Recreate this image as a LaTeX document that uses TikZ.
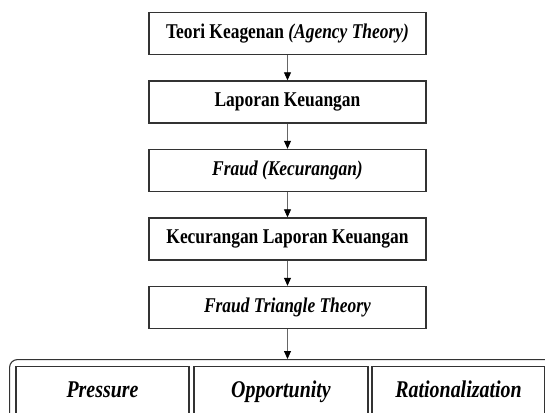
\documentclass[tikz,border=0pt]{standalone}
\usepackage{fontspec}
\setmainfont[FakeStretch=0.83]{Liberation Serif}
\usetikzlibrary{positioning}
\usetikzlibrary{arrows.meta}

\begin{document}
\begin{tikzpicture} [
       kotak/.style={rectangle, draw=black!80, line width=1.4pt,
               minimum width=277pt, minimum height=42pt, inner sep=0pt,
               font=\fontsize{21}{25}\selectfont\bfseries},
       pilar/.style={rectangle, draw=black!80, line width=1.3pt, anchor=north,
               minimum width=173pt, inner xsep=0pt, inner ysep=5pt,
               text height=26pt, text depth=30pt,
               font=\fontsize{24}{28}\selectfont\bfseries\itshape},
       bingkai/.style={rectangle, draw=black!80, line width=1.1pt,
               rounded corners=8pt, anchor=north west,
               minimum width=560pt, minimum height=90pt},
        line/.style     = { draw, black!60, line width=0.8pt,
               -{Triangle[length=8pt,width=7pt,color=black]} },
       node distance=68.5pt,
       ]
       \useasboundingbox (0,0) rectangle (545pt,-412pt);
       \clip (0,0) rectangle (545pt,-412pt);
       \node (teori) [kotak] at (287.5pt,-33.5pt) {Teori Keagenan \textit{(Agency Theory)}};
       \node (laporan) [kotak, below of = teori] {Laporan Keuangan};
       \node (fraud) [kotak, below of = laporan] {\textit{Fraud (Kecurangan)}};
       \node (kecurangan) [kotak, below of = fraud] {Kecurangan Laporan Keuangan};
       \node (segitiga) [kotak, below of = kecurangan] {\textit{Fraud Triangle Theory}};
       \node (bingkai) [bingkai] at (9pt,-359pt) {};
       \node (pressure) [pilar] at (102.5pt,-366pt) {Pressure};
       \node (opportunity) [pilar, minimum width=174pt] at (281pt,-366pt) {Opportunity};
       \node (rational) [pilar] at (458.5pt,-366pt) {Rationalization};
        \begin{scope}[every path/.style=line]
        \path (teori) -- (laporan);
        \path (laporan) -- (fraud);
        \path (fraud) -- (kecurangan);
        \path (kecurangan) -- (segitiga);
        \path (segitiga) -- (segitiga |- bingkai.north);
\end{scope}
\end{tikzpicture}
\end{document}
